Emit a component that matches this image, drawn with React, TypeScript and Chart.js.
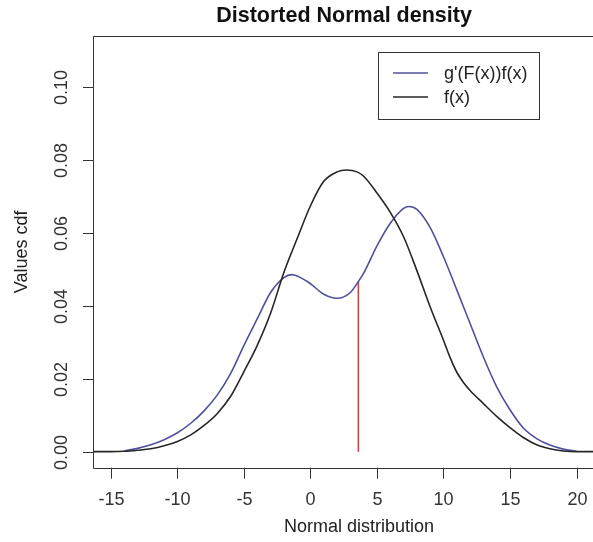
import { useEffect, useRef } from "react";
import { Chart, registerables } from "chart.js";

Chart.register(...registerables);

// f(x): original normal-mixture density (black)
const xF = [-17, -15, -14, -13, -12, -11, -10, -9, -8, -7, -6, -5, -4, -3, -2, -1, 0, 1, 2, 2.7, 3.5, 4, 5, 6, 7, 8, 9, 10, 10.5, 11, 11.5, 12, 13, 14, 15, 16, 17, 18, 19, 20, 22];
const yF = [0, 0, 0.0001, 0.0004, 0.0008, 0.0016, 0.0028, 0.0046, 0.0072, 0.0105, 0.0152, 0.022, 0.0292, 0.038, 0.0492, 0.0585, 0.0675, 0.0742, 0.0768, 0.0773, 0.0768, 0.0756, 0.071, 0.0657, 0.059, 0.0497, 0.0397, 0.0306, 0.0258, 0.0218, 0.019, 0.0168, 0.0132, 0.0097, 0.0066, 0.0039, 0.0019, 0.0008, 0.0002, 0, 0];

// g'(F(x))f(x): distorted density (blue)
const xG = [-14, -13, -12, -11, -10, -9, -8, -7, -6, -5, -4, -3, -2, -1.4, -1, 0, 1, 2, 3, 3.6, 4, 5, 6, 7, 7.4, 8, 9, 10, 11, 12, 13, 14, 15, 16, 17, 18, 19, 20];
const yG = [0.0002, 0.0009, 0.0019, 0.0033, 0.0052, 0.0078, 0.0112, 0.0156, 0.0215, 0.0292, 0.0365, 0.0437, 0.0478, 0.0486, 0.0482, 0.0461, 0.0432, 0.0421, 0.0437, 0.0467, 0.049, 0.0565, 0.0627, 0.0668, 0.0673, 0.0665, 0.0615, 0.0535, 0.0444, 0.0352, 0.026, 0.0178, 0.0115, 0.0065, 0.0036, 0.0018, 0.0007, 0.0001];

// vertical marker (red)
const xMark = [3.6, 3.6];
const yMark = [0, 0.0467];

const xTicks = [-15, -10, -5, 0, 5, 10, 15, 20];
const xTickLabels = ["-15", "-10", "-5", "0", "5", "10", "15", "20"];
const yTicks = [0, 0.02, 0.04, 0.06, 0.08, 0.1];
const yTickLabels = ["0.00", "0.02", "0.04", "0.06", "0.08", "0.10"];

const xLimits = [-16.35, 21.24];
const xPlotRight = 21.4;
const yLimits = [-0.0044, 0.1141];

const mainTitle = "Distorted Normal density";
const xTitle = "Normal distribution";
const yTitle = "Values cdf";
const legendLabels = ["g'(F(x))f(x)", "f(x)"];

const BLUE = "#50509e";
const BLACK = "#262626";
const RED = "#c04a4a";
const AXIS = "#333333";
const FONT = "'Liberation Sans', Arial, sans-serif";

const toPts = (xs: number[], ys: number[]) => xs.map((x, i) => ({ x, y: ys[i] }));

const rFrame = {
  id: "rFrame",
  afterDraw(chart: any) {
    const { ctx, chartArea: a, scales } = chart;
    const xs = scales.x;
    const ys = scales.y;
    ctx.save();
    ctx.strokeStyle = AXIS;
    ctx.lineWidth = 1;
    // box (right side falls outside the canvas)
    ctx.beginPath();
    ctx.moveTo(a.right + 5, Math.round(a.top) + 0.5);
    ctx.lineTo(Math.round(a.left) + 0.5, Math.round(a.top) + 0.5);
    ctx.lineTo(Math.round(a.left) + 0.5, Math.round(a.bottom) + 0.5);
    ctx.lineTo(a.right + 5, Math.round(a.bottom) + 0.5);
    ctx.stroke();

    ctx.fillStyle = AXIS;
    ctx.font = `18px ${FONT}`;
    // x ticks
    ctx.textAlign = "center";
    ctx.textBaseline = "alphabetic";
    xTicks.forEach((v, i) => {
      const px = Math.round(xs.getPixelForValue(v)) + 0.5;
      ctx.beginPath();
      ctx.moveTo(px, a.bottom);
      ctx.lineTo(px, a.bottom + 11);
      ctx.stroke();
      ctx.fillText(xTickLabels[i], px, a.bottom + 37);
    });
    // y ticks
    yTicks.forEach((v, i) => {
      const py = Math.round(ys.getPixelForValue(v)) + 0.5;
      ctx.beginPath();
      ctx.moveTo(a.left - 10, py);
      ctx.lineTo(a.left, py);
      ctx.stroke();
      ctx.save();
      ctx.translate(a.left - 26, py);
      ctx.rotate(-Math.PI / 2);
      ctx.textAlign = "center";
      ctx.textBaseline = "alphabetic";
      ctx.fillText(yTickLabels[i], 0, 0);
      ctx.restore();
    });

    const plotCenterX = (a.left + xs.getPixelForValue(xPlotRight)) / 2;
    // axis titles
    ctx.fillStyle = "#222";
    ctx.textAlign = "center";
    ctx.fillText(xTitle, plotCenterX + 15, a.bottom + 64);
    ctx.save();
    ctx.translate(27, (a.top + a.bottom) / 2);
    ctx.rotate(-Math.PI / 2);
    ctx.fillText(yTitle, 0, 0);
    ctx.restore();

    // main title
    ctx.font = `bold 21.5px ${FONT}`;
    ctx.fillStyle = "#111";
    ctx.fillText(mainTitle, plotCenterX, 22);

    // legend
    const lx = 378.5, ly = 52.5, lw = 161, lh = 67;
    ctx.strokeStyle = AXIS;
    ctx.strokeRect(lx, ly, lw, lh);
    const colors = [BLUE, BLACK];
    const rows = [73, 97];
    ctx.font = `18px ${FONT}`;
    ctx.textAlign = "left";
    ctx.textBaseline = "middle";
    legendLabels.forEach((lab, i) => {
      ctx.strokeStyle = colors[i];
      ctx.lineWidth = 1.5;
      ctx.beginPath();
      ctx.moveTo(393, rows[i]);
      ctx.lineTo(428, rows[i]);
      ctx.stroke();
      ctx.fillStyle = "#222";
      ctx.fillText(lab, 444, rows[i] + 1);
    });
    ctx.restore();
  },
};

export default function App() {
  const ref = useRef<HTMLCanvasElement>(null);
  useEffect(() => {
    if (!ref.current) return;
    const chart = new Chart(ref.current, {
      type: "scatter",
      data: {
        datasets: [
          {
            label: legendLabels[1],
            data: toPts(xF, yF),
            showLine: true,
            borderColor: BLACK,
            borderWidth: 1.6,
            pointRadius: 0,
            cubicInterpolationMode: "monotone",
          },
          {
            label: legendLabels[0],
            data: toPts(xG, yG),
            showLine: true,
            borderColor: BLUE,
            borderWidth: 1.6,
            pointRadius: 0,
            cubicInterpolationMode: "monotone",
          },
          {
            label: "marker",
            data: toPts(xMark, yMark),
            showLine: true,
            borderColor: RED,
            borderWidth: 1.6,
            pointRadius: 0,
          },
        ],
      } as any,
      options: {
        responsive: false,
        animation: false,
        events: [],
        layout: { padding: { left: 93, top: 36, right: 0, bottom: 74.3 } },
        plugins: { legend: { display: false }, tooltip: { enabled: false }, title: { display: false } },
        scales: {
          x: { type: "linear", min: xLimits[0], max: xLimits[1], display: false },
          y: { type: "linear", min: yLimits[0], max: yLimits[1], display: false },
        },
      },
      plugins: [rFrame],
    });
    return () => chart.destroy();
  }, []);
  return (
    <div style={{ position: "fixed", left: 0, top: 0, width: 593, height: 542, background: "#fff", overflow: "hidden" }}>
      <canvas ref={ref} width={593} height={542} style={{ display: "block" }} />
    </div>
  );
}
